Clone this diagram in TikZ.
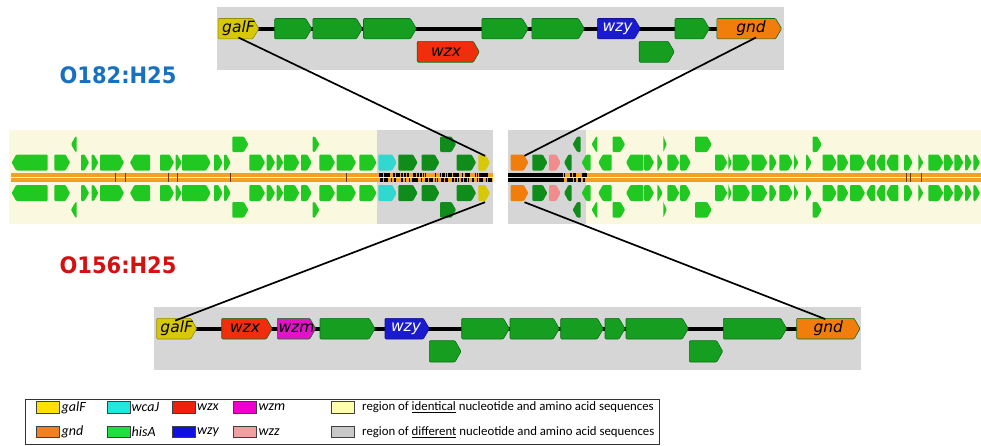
\documentclass[tikz,border=0pt]{standalone}
\usepackage{fontspec}
\setmainfont{Carlito}
\newfontfamily\djv{DejaVu Sans}
\definecolor{cgray}{RGB}{214,214,214}
\definecolor{cgreen}{RGB}{22,158,32}
\definecolor{cgreenD}{RGB}{10,115,20}
\definecolor{cyel}{RGB}{216,200,10}
\definecolor{corange}{RGB}{240,125,12}
\definecolor{cred}{RGB}{240,45,12}
\definecolor{cblue}{RGB}{26,26,208}
\definecolor{cmag}{RGB}{226,18,200}
\definecolor{mlg}{RGB}{34,200,34}
\definecolor{mdg}{RGB}{16,140,26}
\definecolor{mcyan}{RGB}{48,216,208}
\definecolor{mpink}{RGB}{240,140,140}
\definecolor{cream}{RGB}{250,249,224}
\definecolor{band}{RGB}{246,160,32}
\definecolor{tblue}{RGB}{24,112,192}
\definecolor{tred}{RGB}{212,16,16}
\definecolor{lgalF}{RGB}{255,224,0}
\definecolor{lwcaJ}{RGB}{32,232,224}
\definecolor{lwzx}{RGB}{240,32,16}
\definecolor{lwzm}{RGB}{240,0,208}
\definecolor{lgnd}{RGB}{240,128,32}
\definecolor{lhisA}{RGB}{32,224,64}
\definecolor{lwzy}{RGB}{16,16,224}
\definecolor{lwzz}{RGB}{240,160,160}
\definecolor{lyel}{RGB}{255,255,176}
\definecolor{lgray}{RGB}{200,200,200}
\def\gtip{6}
% gene arrow: x1 x2 y1 y2 style dir
\newcommand{\gene}[6]{%
  \pgfmathsetmacro\gnW{#2-#1}%
  \pgfmathsetmacro\gnT{min(\gtip,\gnW)}%
  \pgfmathsetmacro\gnM{(#3+#4)/2}%
  \if #6R%
    \path[#5] (#1,#3) -- ({#2-\gnT},#3) -- (#2,\gnM) -- ({#2-\gnT},#4) -- (#1,#4) -- cycle;%
  \else
    \path[#5] (#2,#3) -- ({#1+\gnT},#3) -- (#1,\gnM) -- ({#1+\gnT},#4) -- (#2,#4) -- cycle;%
  \fi}
\begin{document}
\begin{tikzpicture}[x=1pt,y=-1pt,
  cgene/.style={fill=cgreen,draw=cgreenD,line width=0.6pt,rounded corners=1pt},
  mgene/.style={rounded corners=1pt},
  glabel/.style={inner sep=0pt,font=\djv\itshape\fontsize{15.5}{16}\selectfont},
  conn/.style={draw=black,line width=1.7pt},
  backbone/.style={line width=4pt,black},
  swatch/.style={draw=black!75,line width=0.6pt,minimum width=23pt,minimum height=11.5pt,inner sep=0pt},
  legtext/.style={anchor=west,inner sep=0pt,font=\fontsize{12.8}{14}\selectfont},
  legit/.style={legtext,font=\itshape\fontsize{14}{15}\selectfont},
  serot/.style={font=\djv\bfseries\fontsize{21}{24}\selectfont,yscale=1.08}]
\useasboundingbox (0,0) rectangle (981,445);
\fill[white] (0,0) rectangle (981,445);

% ---------------- top cluster (O182) ----------------
\fill[cgray] (216.7,6.7) rectangle (784,70.3);
\draw[backbone] (258,28.6) -- (717,28.6);
\gene{218.1}{258.8}{18.5}{38.8}{cgene,fill=cyel,draw=cyel!70!black}{R}
\foreach \a/\b in {274.7/311.7,312.8/362.4,363.5/416.4,481.9/528.2,531.9/584.4,675/709.4}
  {\gene{\a}{\b}{18.5}{38.8}{cgene}{R}}
\gene{597.3}{640.3}{18.5}{38.8}{cgene,fill=cblue,draw=cblue!70!black}{R}
\gene{716.8}{781.6}{18.5}{38.8}{cgene,fill=corange,draw=cgreenD}{R}
\gene{417.2}{479.3}{41.4}{62.2}{cgene,fill=cred,draw=cgreenD}{R}
\gene{639.2}{674.3}{41.4}{62.2}{cgene}{R}
\node[glabel,minimum width=40.7pt,minimum height=20.3pt] (tgalF) at (238.45,28.65) {galF};
\node[glabel,text=white,minimum width=43pt,minimum height=20.3pt] (twzy) at (617.5,28.65) {wzy};
\node[glabel,minimum width=64.8pt,minimum height=20.3pt] (tgnd) at (751,28.65) {gnd};
\node[glabel,minimum width=62pt,minimum height=20.8pt] (twzx) at (446,51.8) {wzx};

% ---------------- bottom cluster (O156) ----------------
\fill[cgray] (154,307.3) rectangle (861,370);
\draw[backbone] (196,329) -- (797,329);
\gene{156.7}{196.7}{318.3}{339}{cgene,fill=cyel,draw=cyel!70!black}{R}
\gene{221.7}{272.3}{318.3}{339}{cgene,fill=cred,draw=cgreenD}{R}
\gene{277.3}{315.7}{318.3}{339}{cgene,fill=cmag,draw=cgreenD}{R}
\gene{385}{429.3}{318.3}{339}{cgene,fill=cblue,draw=cblue!70!black}{R}
\foreach \a/\b in {320/375,461.7/509.3,510/559.3,560.7/603.3,605/625,626/688.3,723.3/786.7}
  {\gene{\a}{\b}{318.3}{339}{cgene}{R}}
\gene{796.7}{860}{318.3}{339}{cgene,fill=corange,draw=cgreenD}{R}
\gene{429.3}{461}{340.7}{362}{cgene}{R}
\gene{689.3}{722.7}{340.7}{362}{cgene}{R}
\node[glabel,minimum width=40pt,minimum height=20.7pt] (bgalF) at (176.7,328.65) {galF};
\node[glabel,minimum width=50.6pt,minimum height=20.7pt] (bwzx) at (245,328.65) {wzx};
\node[glabel,minimum width=38.4pt,minimum height=20.7pt] (bwzm) at (296.5,328.65) {wzm};
\node[glabel,text=white,minimum width=44.3pt,minimum height=20.7pt] (bwzy) at (406,328.65) {wzy};
\node[glabel,minimum width=63.3pt,minimum height=20.7pt] (bgnd) at (828.3,328.65) {gnd};

% ---------------- middle genome strip ----------------
\fill[cream] (9,130) rectangle (377,224);
\fill[cgray] (377,130) rectangle (493,224);
\fill[cgray] (508,130) rectangle (586,224);
\fill[cream] (586,130) rectangle (981,224);
% backbone band
\fill[band] (11,172.5) rectangle (493,182);
\fill[band] (508,172.5) rectangle (981,182);
\fill[black] (508,172.5) rectangle (563,182);
\pgfmathsetseed{11}
\foreach \i in {1,...,120}{
  \pgfmathsetmacro\xx{379+rnd*112}
  \pgfmathsetmacro\ww{0.6+rnd*1.8}
  \pgfmathsetmacro\yy{rnd<0.5 ? 172.5 : 177.5}
  \fill[black] (\xx,\yy) rectangle ({\xx+\ww},{\yy+4.5});}
\foreach \i in {1,...,26}{
  \pgfmathsetmacro\xx{562+rnd*23}
  \pgfmathsetmacro\ww{0.6+rnd*1.4}
  \pgfmathsetmacro\yy{rnd<0.5 ? 172.5 : 177.5}
  \fill[black] (\xx,\yy) rectangle ({\xx+\ww},{\yy+4.5});}
\fill[white,opacity=0.85] (11,176.6) rectangle (493,177.9);
\fill[white,opacity=0.85] (508,176.6) rectangle (981,177.9);
\foreach \x in {115,125,168.3,177.3,230.7,346,906.7,910,921.7}
  {\draw[black!60!band,line width=0.5pt] (\x,172.5) -- (\x,182);}
% genes of the strip (same on both strands)
\def\gtip{4.5}
\foreach \a/\b/\dr/\c in {11.7/47.7/L/mlg,54.3/70/R/mlg,81/89/R/mlg,91.7/98.3/R/mlg,100/124/R/mlg,
  130/150/L/mlg,160/174/R/mlg,175.7/181.7/R/mlg,182/210.7/R/mlg,214/222.7/R/mlg,224/230.7/R/mlg,
  249.3/265/R/mlg,266.7/275/R/mlg,276.7/283.3/R/mlg,284/299.3/R/mlg,301/311.7/R/mlg,319.3/335/R/mlg,
  336.7/356/R/mlg,359.3/376.5/R/mlg,378.3/396.7/R/mcyan,398.3/417.5/R/mdg,421.7/439.3/R/mdg,
  456.7/476/R/mdg,478.3/490/R/cyel,510.7/528.3/R/corange,
  532.3/547.3/R/mdg,549/560.7/R/mpink,564/571.7/L/mdg,581.7/590.7/L/mlg,598.3/611.7/L/mlg,
  626/643.3/L/mlg,644/654/R/mlg,657.3/662.7/R/mlg,667.3/679.3/R/mlg,680/690.7/R/mlg,715/727.3/R/mlg,
  728.3/731.7/R/mlg,732.7/750/R/mlg,751.7/767.3/R/mlg,769.3/776.7/R/mlg,779.3/792.7/R/mlg,
  794/798.3/R/mlg,806/811.7/R/mlg,822.7/836.7/R/mlg,837.3/848.3/R/mlg,850/865/R/mlg,866/875/L/mlg,
  876/885/L/mlg,886/898.3/L/mlg,904/912.7/R/mlg,918.3/923.3/R/mlg,928.3/943.3/R/mlg,944/953.3/R/mlg,
  954.3/963.3/R/mlg,965/971.7/R/mlg,973.3/980/R/mlg}
  {\gene{\a}{\b}{154.5}{170.5}{mgene,fill=\c}{\dr}
   \gene{\a}{\b}{185}{201}{mgene,fill=\c}{\dr}}
\foreach \a/\b/\dr/\c in {71/76.7/L/mlg,232.3/248.3/R/mlg,312.7/319.3/R/mlg,440/456/R/mdg,
  572.7/580.7/L/mdg,591.7/597.3/L/mlg,612.7/625/R/mlg,663.3/666.7/R/mlg,695/711.7/R/mlg,812.7/821.7/R/mlg}
  {\gene{\a}{\b}{136.5}{152}{mgene,fill=\c}{\dr}
   \gene{\a}{\b}{202}{217.7}{mgene,fill=\c}{\dr}}
\node[inner sep=0pt,minimum width=11.7pt,minimum height=16pt] (mgalFa) at (484.2,162.5) {};
\node[inner sep=0pt,minimum width=11.7pt,minimum height=16pt] (mgalFb) at (484.2,193) {};
\node[inner sep=0pt,minimum width=17.6pt,minimum height=16pt] (mgndA) at (519.5,162.5) {};
\node[inner sep=0pt,minimum width=17.6pt,minimum height=16pt] (mgndB) at (519.5,193) {};

% ---------------- connectors ----------------
\draw[conn] ([yshift=1.5pt]tgalF.south) -- ([xshift=0.8pt,yshift=-1.5pt]mgalFa.north);
\draw[conn] ([xshift=5pt,yshift=1.5pt]tgnd.south) -- ([xshift=5pt,yshift=-1.5pt]mgndA.north);
\draw[conn] ([xshift=0.8pt,yshift=-1pt]mgalFb.south) -- ([xshift=-1.5pt,yshift=-2.5pt]bgalF.north);
\draw[conn] ([xshift=5pt,yshift=-1pt]mgndB.south) -- ([xshift=-3pt,yshift=-1pt]bgnd.north);

% ---------------- serotype labels ----------------
\node[serot,text=tblue] (s182) at (118,75) {O182:H25};
\node[serot,text=tred] (s156) at (118,265) {O156:H25};

% ---------------- legend ----------------
\draw[black!80,line width=0.7pt] (25,399) rectangle (659,444.6);
\node[swatch,fill=lgalF] (k1) at (48,407.5) {};
\node[legit] (t1) at (61.5,407.5) {galF};
\node[swatch,fill=lwcaJ] (k2) at (118.5,407.5) {};
\node[legit] (t2) at (131.5,407.5) {wcaJ};
\node[swatch,fill=lwzx] (k3) at (183.3,407.5) {};
\node[legit] (t3) at (197,407.5) {wzx};
\node[swatch,fill=lwzm] (k4) at (245,407.5) {};
\node[legit] (t4) at (258.5,407.5) {wzm};
\node[swatch,fill=lyel] (k5) at (343,407.5) {};
\node[legtext] (t5) at (362,407.5) {region of \underline{identical} nucleotide and amino acid sequences};
\node[swatch,fill=lgnd] (k6) at (48,432) {};
\node[legit] (t6) at (61.5,432) {gnd};
\node[swatch,fill=lhisA] (k7) at (118.5,432) {};
\node[legit] (t7) at (131.5,432) {hisA};
\node[swatch,fill=lwzy] (k8) at (183.3,432) {};
\node[legit] (t8) at (197,432) {wzy};
\node[swatch,fill=lwzz] (k9) at (245,432) {};
\node[legit] (t9) at (258.5,432) {wzz};
\node[swatch,fill=lgray] (k10) at (343,432) {};
\node[legtext] (t10) at (362,432) {region of \underline{different} nucleotide and amino acid sequences};
\end{tikzpicture}
\end{document}
